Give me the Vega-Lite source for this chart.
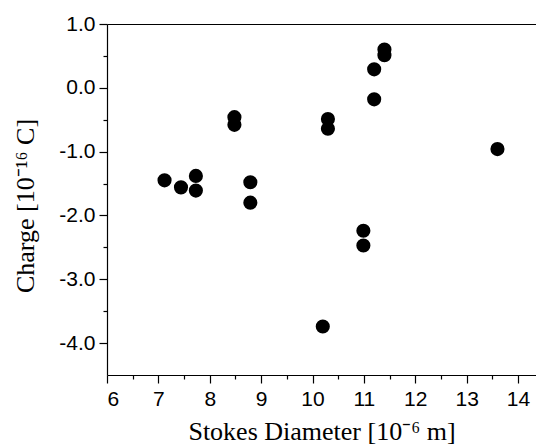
{
  "$schema": "https://vega.github.io/schema/vega-lite/v6.json",
  "autosize": {"type": "none"},
  "width": 429,
  "height": 351,
  "padding": {"left": 107, "top": 24, "right": 0, "bottom": 71},
  "background": "white",
  "config": {
    "view": {"stroke": null},
    "axis": {
      "domainColor": "black",
      "tickColor": "black",
      "labelColor": "black",
      "titleColor": "black",
      "domainWidth": 1.2,
      "tickWidth": 1.2,
      "grid": false,
      "labelFont": "Liberation Sans",
      "labelFontSize": 21,
      "titleFont": "Liberation Serif",
      "titleFontSize": 26,
      "titleFontWeight": "normal"
    }
  },
  "data": {
    "values": [
      {"d": 7.12, "q": -1.45},
      {"d": 7.44, "q": -1.56},
      {"d": 7.73, "q": -1.38},
      {"d": 7.73, "q": -1.61},
      {"d": 8.48, "q": -0.46},
      {"d": 8.48, "q": -0.58},
      {"d": 8.79, "q": -1.48},
      {"d": 8.79, "q": -1.80},
      {"d": 10.30, "q": -0.49},
      {"d": 10.30, "q": -0.64},
      {"d": 10.20, "q": -3.74},
      {"d": 10.99, "q": -2.24},
      {"d": 10.99, "q": -2.47},
      {"d": 11.20, "q": -0.18},
      {"d": 11.20, "q": 0.29},
      {"d": 11.40, "q": 0.60},
      {"d": 11.40, "q": 0.51},
      {"d": 13.60, "q": -0.96}
    ]
  },
  "resolve": {"axis": {"x": "independent", "y": "independent"}},
  "layer": [
    {
      "mark": {"type": "point", "filled": true, "opacity": 0},
      "encoding": {
        "x": {"field": "d", "type": "quantitative",
          "scale": {"domain": [6, 14.35], "nice": false, "zero": false},
          "axis": {"orient": "bottom", "values": [6.5, 7.5, 8.5, 9.5, 10.5, 11.5, 12.5, 13.5], "labels": false, "domain": false, "tickSize": 4, "title": null}},
        "y": {"field": "q", "type": "quantitative",
          "scale": {"domain": [-4.5, 1], "nice": false, "zero": false},
          "axis": {"orient": "left", "values": [0.5, -0.5, -1.5, -2.5, -3.5], "labels": false, "domain": false, "tickSize": 4, "title": null}}
      }
    },
    {
      "mark": {"type": "circle", "color": "black", "opacity": 1, "size": 200},
      "encoding": {
        "x": {"field": "d", "type": "quantitative",
          "scale": {"domain": [6, 14.35], "nice": false, "zero": false},
          "axis": {"orient": "bottom", "values": [6, 7, 8, 9, 10, 11, 12, 13, 14], "tickSize": 8, "labelPadding": 5, "format": "d",
            "title": "Stokes Diameter [10⁻⁶ m]", "titleY": 64, "titleBaseline": "alphabetic"}},
        "y": {"field": "q", "type": "quantitative",
          "scale": {"domain": [-4.5, 1], "nice": false, "zero": false},
          "axis": {"orient": "left", "values": [1, 0, -1, -2, -3, -4], "tickSize": 8, "labelPadding": 4,
            "labelExpr": "(datum.value < 0 ? '-' : '') + format(abs(datum.value), '.1f')",
            "title": "Charge [10⁻¹⁶ C]", "titleX": -73.5, "titleY": 181.5, "titleAngle": -90, "titleAlign": "center", "titleBaseline": "alphabetic"}}
      }
    },
    {
      "mark": {"type": "point", "filled": true, "opacity": 0},
      "encoding": {
        "x": {"field": "d", "type": "quantitative",
          "scale": {"domain": [6, 14.35], "nice": false, "zero": false},
          "axis": {"orient": "top", "ticks": false, "labels": false, "domain": true, "title": null}},
        "y": {"field": "q", "type": "quantitative",
          "scale": {"domain": [-4.5, 1], "nice": false, "zero": false},
          "axis": null}
      }
    }
  ]
}
